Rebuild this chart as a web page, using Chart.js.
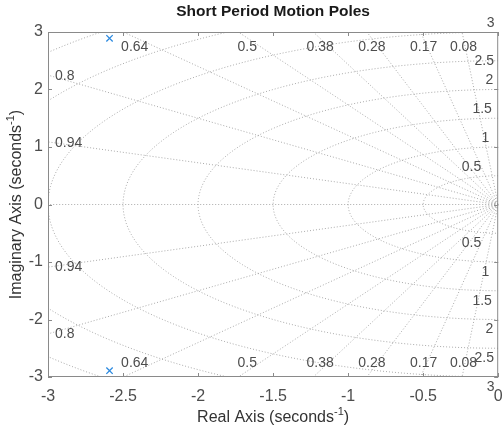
<!doctype html>
<html lang="en">
<head>
  <meta charset="utf-8" />
  <title>Short Period Motion Poles</title>
  <script src="https://cdn.jsdelivr.net/npm/chart.js"></script>
  <style>
    html, body { margin: 0; padding: 0; background: #fff; }
    #wrap { width: 504px; height: 430px; }
  </style>
</head>
<body>
  <div id="wrap"><canvas id="pzChart" width="504" height="430"></canvas></div>

<script>
  // pole locations (short period mode)
  const poleRe = [-2.59, -2.59];
  const poleIm = [2.89, -2.89];

  // sgrid values: damping ratios and natural frequencies
  const zeta = [0.08, 0.17, 0.28, 0.38, 0.5, 0.64, 0.8, 0.94];
  const wn = [0.5, 1, 1.5, 2, 2.5, 3, 3.5, 4];
  const wnLabels = [0.5, 1, 1.5, 2, 2.5, 3];

  // axes
  const xTicks = [-3, -2.5, -2, -1.5, -1, -0.5, 0];
  const yTicks = [-3, -2, -1, 0, 1, 2, 3];

  const FONT = '"Liberation Sans", Arial, Helvetica, sans-serif';
  const gridColor = 'rgba(150,150,150,0.8)';
  const textColor = '#4d4d4d';

  // grid line datasets built from zeta / wn
  const gridSets = [];
  const R = 10;
  zeta.forEach(z => {
    const s = Math.sqrt(1 - z * z);
    [1, -1].forEach(sign => {
      gridSets.push({
        data: [{ x: 0, y: 0 }, { x: -R * z, y: sign * R * s }]
      });
    });
  });
  // damping = 1 (real axis)
  gridSets.push({ data: [{ x: 0, y: 0 }, { x: -R, y: 0 }] });
  wn.forEach(w => {
    const pts = [];
    for (let i = 0; i <= 120; i++) {
      const a = Math.PI / 2 + Math.PI * i / 120;
      pts.push({ x: w * Math.cos(a), y: w * Math.sin(a) });
    }
    gridSets.push({ data: pts });
  });
  gridSets.forEach(d => {
    d.showLine = true;
    d.borderColor = gridColor;
    d.borderWidth = 1;
    d.borderDash = [1, 2];
    d.pointRadius = 0;
    d.order = 2;
  });

  const poleSet = {
    data: poleRe.map((x, i) => ({ x: x, y: poleIm[i] })),
    showLine: false,
    pointStyle: 'crossRot',
    pointRadius: 4.5,
    borderColor: '#2c8ae0',
    borderWidth: 1.3,
    order: 1
  };

  function drawSup(ctx, base, sup, x, y, size, align) {
    ctx.font = size + 'px ' + FONT;
    const w1 = ctx.measureText(base).width;
    ctx.font = Math.round(size * 0.7) + 'px ' + FONT;
    const w2 = ctx.measureText(sup).width;
    ctx.font = size + 'px ' + FONT;
    const w3 = ctx.measureText(')').width;
    let x0 = align === 'center' ? x - (w1 + w2 + w3) / 2 : x;
    ctx.textAlign = 'left';
    ctx.textBaseline = 'alphabetic';
    ctx.fillText(base, x0, y);
    ctx.font = Math.round(size * 0.7) + 'px ' + FONT;
    ctx.fillText(sup, x0 + w1, y - size * 0.45);
    ctx.font = size + 'px ' + FONT;
    ctx.fillText(')', x0 + w1 + w2, y);
  }

  const decor = {
    id: 'decor',
    afterDraw(chart) {
      const ctx = chart.ctx;
      const a = chart.chartArea;
      const xs = chart.scales.x, ys = chart.scales.y;
      ctx.save();

      // box
      ctx.strokeStyle = '#8a8a8a';
      ctx.lineWidth = 1;
      ctx.strokeRect(a.left + 0.5, a.top + 0.5, a.right - a.left - 1, a.bottom - a.top - 1);

      // inward tick marks
      ctx.beginPath();
      xTicks.forEach(v => {
        const p = Math.round(xs.getPixelForValue(v)) + 0.5;
        ctx.moveTo(p, a.bottom); ctx.lineTo(p, a.bottom - 4);
        ctx.moveTo(p, a.top); ctx.lineTo(p, a.top + 4);
      });
      yTicks.forEach(v => {
        const p = Math.round(ys.getPixelForValue(v)) + 0.5;
        ctx.moveTo(a.left, p); ctx.lineTo(a.left + 4, p);
        ctx.moveTo(a.right, p); ctx.lineTo(a.right - 4, p);
      });
      ctx.stroke();

      // damping ratio labels
      ctx.fillStyle = textColor;
      ctx.font = '14px ' + FONT;
      ctx.textBaseline = 'middle';
      zeta.forEach(z => {
        const s = Math.sqrt(1 - z * z);
        const xi = ys.max * (-z / s);
        const lbl = String(z);
        if (xi >= xs.min) {
          ctx.textAlign = 'center';
          const px = xs.getPixelForValue(xi) + 18 * z;
          ctx.fillText(lbl, px, a.top + 15);
          ctx.fillText(lbl, px, a.bottom - 14);
        } else {
          const yi = -xs.min * s / z;
          ctx.textAlign = 'left';
          ctx.fillText(lbl, a.left + 7, ys.getPixelForValue(yi) + 1.5);
          ctx.fillText(lbl, a.left + 7, ys.getPixelForValue(-yi));
        }
      });

      // natural frequency labels
      ctx.textAlign = 'right';
      wnLabels.forEach(w => {
        const px = xs.getPixelForValue(0) - 1 - 8 / w;
        let yu = ys.getPixelForValue(w) - 9;
        if (yu > a.top && yu < a.top + 22) yu = ys.getPixelForValue(w);
        ctx.fillText(String(w), px, yu);
        ctx.fillText(String(w), px, ys.getPixelForValue(-w) + 10);
      });

      // title
      ctx.fillStyle = '#1a1a1a';
      ctx.font = 'bold 15.5px ' + FONT;
      ctx.textAlign = 'center';
      ctx.textBaseline = 'middle';
      ctx.fillText('Short Period Motion Poles', (a.left + a.right) / 2, 12);

      // axis titles
      ctx.fillStyle = '#333';
      drawSup(ctx, 'Real Axis (seconds', '-1', (a.left + a.right) / 2, 422, 16, 'center');
      ctx.save();
      ctx.translate(21, (a.top + a.bottom) / 2);
      ctx.rotate(-Math.PI / 2);
      drawSup(ctx, 'Imaginary Axis (seconds', '-1', 0, 0, 16, 'center');
      ctx.restore();

      ctx.restore();
    }
  };

  new Chart(document.getElementById('pzChart'), {
    type: 'scatter',
    data: { datasets: [poleSet].concat(gridSets) },
    options: {
      responsive: false,
      animation: false,
      layout: { padding: { top: 32, right: 4, left: 0, bottom: 0 } },
      plugins: {
        legend: { display: false },
        tooltip: { enabled: false },
        title: { display: false }
      },
      scales: {
        x: {
          type: 'linear',
          min: -3, max: 0,
          afterBuildTicks: s => { s.ticks = xTicks.map(v => ({ value: v })); },
          afterFit: s => { s.height = 53; s.paddingLeft = 0; s.paddingRight = 0; },
          grid: { display: false, drawTicks: false },
          border: { display: false },
          ticks: {
            padding: 10, color: textColor, font: { size: 16, family: FONT },
            maxRotation: 0, autoSkip: false,
            callback: v => String(v)
          }
        },
        y: {
          type: 'linear',
          min: -3, max: 3,
          afterBuildTicks: s => { s.ticks = yTicks.map(v => ({ value: v })); },
          afterFit: s => { s.width = 48; s.paddingTop = 0; s.paddingBottom = 0; },
          grid: { display: false, drawTicks: false },
          border: { display: false },
          ticks: {
            padding: 5, color: textColor, font: { size: 16, family: FONT },
            autoSkip: false, callback: v => String(v)
          }
        }
      }
    },
    plugins: [decor]
  });
</script>
</body>
</html>
